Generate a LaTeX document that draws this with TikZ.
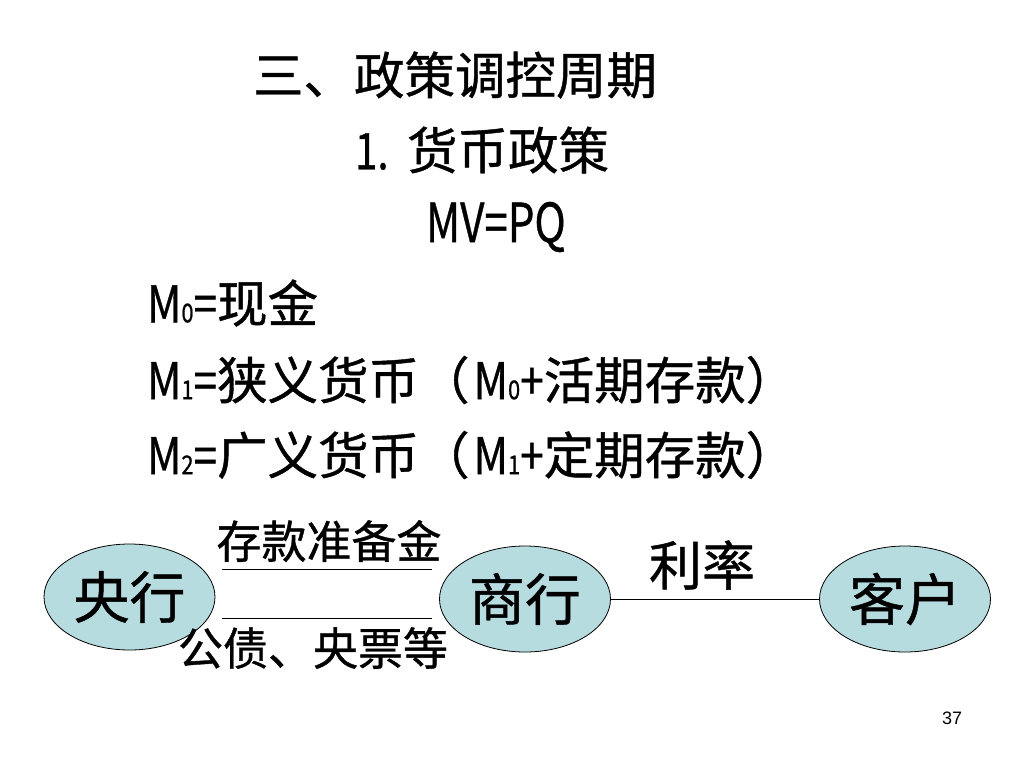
\documentclass[tikz,border=0pt]{standalone}
\usepackage{fontspec}
\setmainfont{Noto Sans CJK SC}[FakeBold=0.8]
\usetikzlibrary{shapes.geometric}
\definecolor{ovalfill}{RGB}{183,220,224}
\newcommand{\fs}[1]{\fontsize{#1}{#1}\selectfont}
\newcommand{\sbs}[1]{{\fs{26}#1}}
\newcommand{\lat}[1]{\scalebox{0.84}[1]{#1}}
\begin{document}
\begin{tikzpicture}[x=1pt,y=-1pt,
  txt/.style={inner sep=0pt,outer sep=0pt,anchor=west,font=\fs{50.5}},
  oval/.style={ellipse,draw=black,line width=0.8pt,fill=ovalfill,minimum width=171pt,minimum height=106pt,inner sep=0pt,font=\fs{56}},
  lbl/.style={inner sep=0pt,font=\fs{45}},
  link/.style={draw=black,line width=0.6pt}]
\useasboundingbox[fill=white] (0,0) rectangle (1024,768);
\node[txt] (title) at (253,75) {三、政策调控周期};
\node[txt] (sub) at (355,150) {\makebox[52pt][l]{\scalebox{0.8}[1]{1.}}货币政策};
\node[txt,font=\fs{54}] (eq) at (426,227) {\scalebox{0.78}[1]{MV=PQ}};
\node[txt] (m0) at (147,303) {\lat{M\sbs{0}=}现金};
\node[txt] (m1) at (147,380) {\lat{M\sbs{1}=}狭义货币（\hspace{4pt}\lat{M\sbs{0}+}活期存款）};
\node[txt] (m2) at (147,455) {\lat{M\sbs{2}=}广义货币（\hspace{4pt}\lat{M\sbs{1}+}定期存款）};
\node[oval] (cb) at (129.5,597) {央行};
\node[oval] (bank) at (525,599) {商行};
\node[oval] (client) at (905,599) {客户};
\coordinate (a1) at (222,569);
\coordinate (a2) at (432,569);
\coordinate (b1) at (222,618);
\coordinate (b2) at (432,618);
\draw[link] (a1) -- (a2);
\draw[link] (b1) -- (b2);
\draw[link] (bank.east) -- (client.west);
\node[lbl] (res) at (329,541) {存款准备金};
\node[lbl] (bond) at (313,648) {公债、央票等};
\node[lbl,font=\fs{53}] (rate) at (702,565) {利率};
\node[inner sep=0pt,font=\fontsize{18}{18}\selectfont\fontspec{Liberation Sans}] (pg) at (952,718) {37};
\end{tikzpicture}
\end{document}
